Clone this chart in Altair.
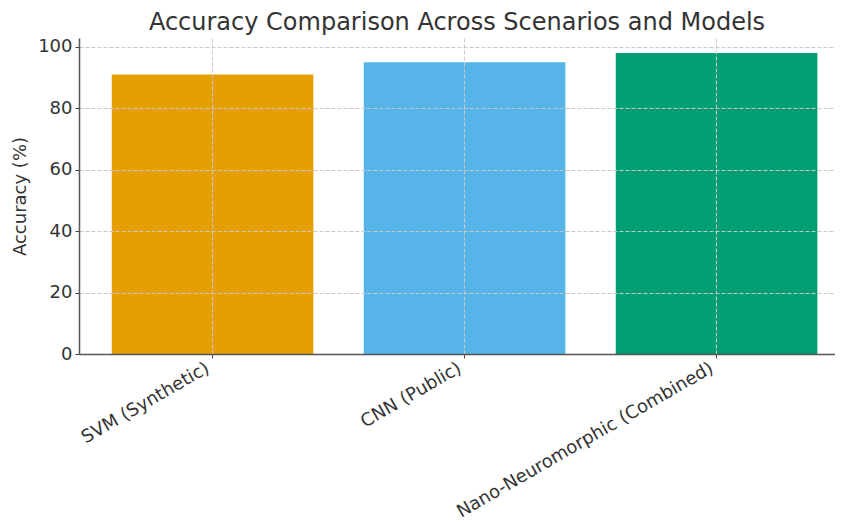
import altair as alt
import pandas as pd

models = ["SVM (Synthetic)", "CNN (Public)", "Nano-Neuromorphic (Combined)"]
accuracy = [91, 95, 98]
colors = ["#E69F00", "#56B4E9", "#009E73"]
y_ticks = [0, 20, 40, 60, 80, 100]

df = pd.DataFrame({"Model": models, "Accuracy": accuracy})

FONT = "DejaVu Sans"

bars = alt.Chart(df).mark_bar().encode(
    x=alt.X(
        "Model:N",
        sort=models,
        scale=alt.Scale(paddingInner=0.2, paddingOuter=0.1, align=0.65),
        axis=alt.Axis(
            title=None,
            labelAngle=-30,
            labelAlign="right",
            labelBaseline="top",
            labelPadding=1,
            labelOffset=-9,
            labelFontSize=18,
            labelFont=FONT,
            labelColor="#333333",
            labelLimit=400,
            grid=True,
            bandPosition=0.5,
            gridColor="#c8c8c8",
            gridDash=[4, 2],
            gridWidth=1,
            ticks=True,
            tickSize=4,
            tickColor="#444444",
            domainColor="#555555",
            domainWidth=1.5,
            zindex=1,
        ),
    ),
    y=alt.Y(
        "Accuracy:Q",
        scale=alt.Scale(domain=[0, 102.9], nice=False),
        axis=alt.Axis(
            title="Accuracy (%)",
            values=y_ticks,
            titleFontSize=18,
            titleFont=FONT,
            titleFontWeight="normal",
            titleColor="#333333",
            titlePadding=8,
            labelFontSize=18,
            labelFont=FONT,
            labelColor="#333333",
            labelPadding=3,
            grid=True,
            gridColor="#c8c8c8",
            gridDash=[4, 2],
            gridWidth=1,
            tickSize=4,
            tickColor="#444444",
            domainColor="#555555",
            domainWidth=1.5,
            zindex=1,
        ),
    ),
    color=alt.Color("Model:N", scale=alt.Scale(domain=models, range=colors), legend=None),
)

chart = bars.properties(
    width=756,
    height=316,
    title=alt.TitleParams(
        "Accuracy Comparison Across Scenarios and Models",
        fontSize=24,
        font=FONT,
        fontWeight="normal",
        color="#333333",
        anchor="middle",
        offset=3,
    ),
    autosize=alt.AutoSizeParams(type="none"),
    padding={"left": 71, "top": 30, "right": 0, "bottom": 170},
).configure_view(stroke=None)

chart.save("out.html", embed_options={"renderer": "svg", "actions": False})
